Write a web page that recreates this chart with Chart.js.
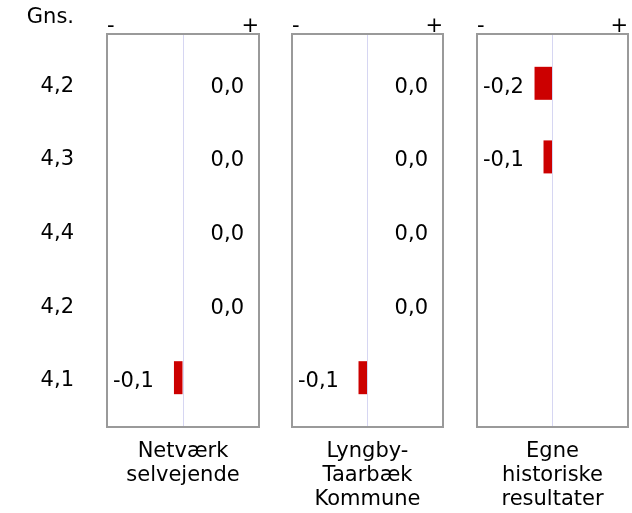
<!DOCTYPE html>
<html>
<head>
<meta charset="utf-8">
<script src="https://cdn.jsdelivr.net/npm/chart.js@4"></script>
<style>
  body { margin: 0; background: #fff; }
  #wrap { position: relative; width: 632px; height: 513px; }
  canvas { position: absolute; top: 0; }
</style>
</head>
<body>
<div id="wrap">
  <canvas id="c1" width="270" height="513" style="left:0px"></canvas>
  <canvas id="c2" width="175" height="513" style="left:280px"></canvas>
  <canvas id="c3" width="167" height="513" style="left:465px"></canvas>
</div>
<script>
// rows (top to bottom) and their averages
var rows = [0, 1, 2, 3, 4];
var avgLabels = ['4,2', '4,3', '4,4', '4,2', '4,1'];
var avgHeader = 'Gns.';

// difference per comparison group
var netvaerk = [0, 0, 0, 0, -0.1];
var lyngby = [0, 0, 0, 0, -0.1];
var historiske = [-0.2, -0.1, null, null, null];

var panelNames = [
    ['Netværk', 'selvejende'],
    ['Lyngby-', 'Taarbæk', 'Kommune'],
    ['Egne', 'historiske', 'resultater']
];
var axisEnds = ['-', '+'];

var xMin = -0.84, xMax = 0.84;
var FONT = 'Verdana, "DejaVu Sans", sans-serif';

Chart.defaults.font.family = FONT;
Chart.defaults.font.size = 21;
Chart.defaults.color = '#000';

function fmt(v) {
    return v.toFixed(1).replace('.', ',');
}

// grey frame round the plot area
var framePlugin = {
    id: 'frame',
    afterDraw: function (chart) {
        var a = chart.chartArea, ctx = chart.ctx;
        ctx.save();
        ctx.strokeStyle = '#9a9a9a';
        ctx.lineWidth = 2;
        ctx.strokeRect(a.left, a.top, a.right - a.left, a.bottom - a.top);
        ctx.restore();
    }
};

// value text: negatives at the left edge, others at the right edge
var valuePlugin = {
    id: 'values',
    afterDatasetsDraw: function (chart) {
        var a = chart.chartArea, ctx = chart.ctx;
        var data = chart.data.datasets[0].data;
        ctx.save();
        ctx.font = '21px ' + FONT;
        ctx.fillStyle = '#000';
        ctx.textBaseline = 'middle';
        data.forEach(function (d) {
            if (d.x === null) return;
            var y = chart.scales.y.getPixelForValue(d.y) + 4;
            if (d.x < 0) {
                ctx.textAlign = 'left';
                ctx.fillText(fmt(d.x), a.left + 6, y);
            } else {
                ctx.textAlign = 'right';
                ctx.fillText(fmt(d.x), a.right - 15, y);
            }
        });
        ctx.restore();
    }
};

// "Gns." header above the average column
var headerPlugin = {
    id: 'header',
    afterDraw: function (chart) {
        if (!chart.options.plugins.header.show) return;
        var ctx = chart.ctx;
        ctx.save();
        ctx.font = '21px ' + FONT;
        ctx.fillStyle = '#000';
        ctx.textAlign = 'right';
        ctx.textBaseline = 'alphabetic';
        ctx.fillText(avgHeader, chart.chartArea.left - 33, 23);
        ctx.restore();
    }
};

function makePanel(id, series, name, showAvg, pad) {
    var ctx = document.getElementById(id).getContext('2d');
    return new Chart(ctx, {
        type: 'bar',
        data: {
            datasets: [{
                data: series.map(function (v, i) { return { x: v, y: rows[i] }; }),
                backgroundColor: '#cc0000',
                borderWidth: 0,
                inflateAmount: 0,
                barThickness: 33
            }]
        },
        options: {
            indexAxis: 'y',
            responsive: false,
            animation: false,
            layout: { padding: pad },
            scales: {
                x: {
                    type: 'linear',
                    position: 'top',
                    min: xMin,
                    max: xMax,
                    afterBuildTicks: function (s) {
                        s.ticks = [{ value: xMin }, { value: 0 }, { value: xMax }];
                    },
                    afterFit: function (s) { s.height = 34; },
                    ticks: {
                        align: 'inner',
                        padding: 0,
                        maxRotation: 0,
                        autoSkip: false,
                        font: { size: 21, lineHeight: '14px' },
                        callback: function (v, i) {
                            return i === 0 ? axisEnds[0] : (i === 2 ? axisEnds[1] : '');
                        }
                    },
                    grid: {
                        drawTicks: false,
                        color: function (c) {
                            return c.tick && c.tick.value === 0 ? '#d6d6f2' : 'rgba(0,0,0,0)';
                        }
                    },
                    border: { display: false }
                },
                y: {
                    type: 'linear',
                    display: showAvg,
                    reverse: true,
                    offset: false,
                    min: -0.67,
                    max: 4.67,
                    afterBuildTicks: function (s) {
                        s.ticks = rows.map(function (r) { return { value: r }; });
                    },
                    afterFit: function (s) {
                        s.width = showAvg ? 107 : 0;
                        s.paddingTop = 0;
                        s.paddingBottom = 0;
                    },
                    ticks: {
                        padding: 33,
                        autoSkip: false,
                        font: { size: 21, lineHeight: '6px' },
                        // empty first line nudges the number down a little
                        callback: function (v) { return ['', avgLabels[v]]; }
                    },
                    grid: { display: false, drawTicks: false },
                    border: { display: false }
                }
            },
            plugins: {
                legend: { display: false },
                tooltip: { enabled: false },
                header: { show: showAvg },
                title: {
                    display: true,
                    position: 'bottom',
                    fullSize: false,
                    text: name,
                    color: '#000',
                    font: { size: 21, weight: 'normal', lineHeight: '24px' },
                    padding: { top: 13, bottom: 0 }
                }
            }
        },
        plugins: [framePlugin, valuePlugin, headerPlugin]
    });
}

makePanel('c1', netvaerk, panelNames[0], true, { left: 0, right: 11, top: 0, bottom: 25 });
makePanel('c2', lyngby, panelNames[1], false, { left: 12, right: 12, top: 0, bottom: 1 });
makePanel('c3', historiske, panelNames[2], false, { left: 12, right: 4, top: 0, bottom: 1 });
</script>
</body>
</html>
